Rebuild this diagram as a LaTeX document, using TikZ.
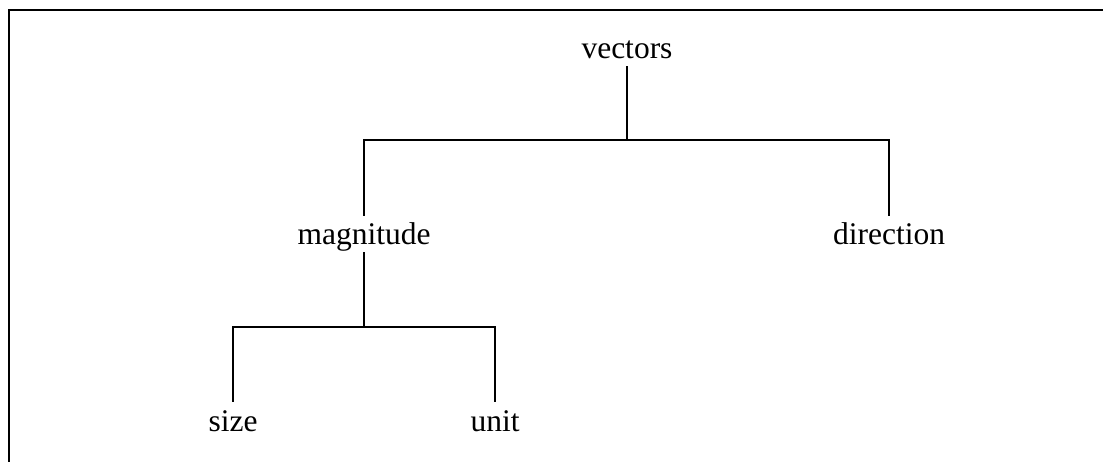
\documentclass[tikz,border=0pt]{standalone}
\usepackage{fontspec}
\setmainfont{Liberation Serif}
\begin{document}
\begin{tikzpicture}[x=1pt,y=-1pt,
  lbl/.style={anchor=base,inner sep=0pt,text height=30pt,text depth=7.5pt,font=\fontsize{31.5}{36}\selectfont},
  conn/.style={line width=1.5pt,line cap=rect},
  frame/.style={line width=1.8pt}]
\useasboundingbox (0,0) rectangle (1103,462);
\draw[frame] (9,462) -- (9,10) -- (1103,10);
\node[lbl] (v) at (627,59) {vectors};
\node[lbl] (m) at (364,245) {magnitude};
\node[lbl] (d) at (889,245) {direction};
\node[lbl] (s) at (233,431) {size};
\node[lbl] (u) at (495,431) {unit};
\coordinate (j1) at (627,140);
\coordinate (j2) at (364,327);
\draw[conn] (v.south) -- (v.south |- j1);
\draw[conn] (m.north) -- (m.north |- j1) -- (d.north |- j1) -- (d.north);
\draw[conn] (m.south) -- (m.south |- j2);
\draw[conn] (s.north) -- (s.north |- j2) -- (u.north |- j2) -- (u.north);
\end{tikzpicture}
\end{document}
